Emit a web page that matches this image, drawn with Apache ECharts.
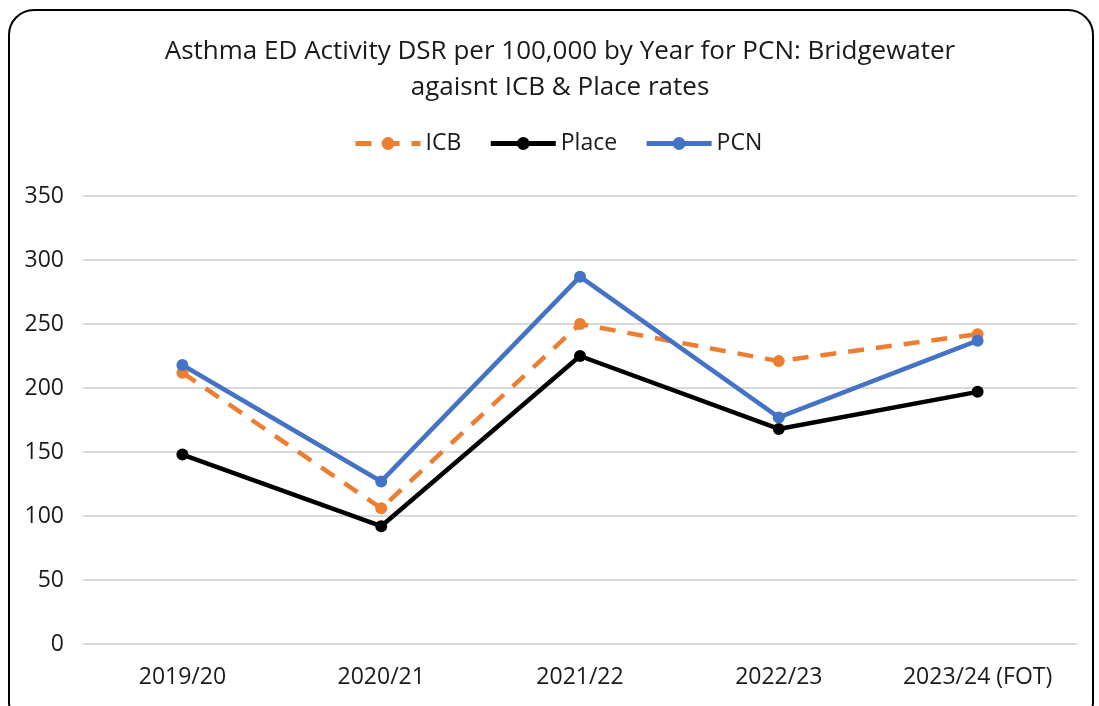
<!DOCTYPE html>
<html>
<head>
<meta charset="utf-8">
<script src="https://cdn.jsdelivr.net/npm/echarts@6/dist/echarts.min.js"></script>
<style>
  html, body { margin:0; padding:0; background:#fff; }
  #wrap { position:relative; width:1099px; height:706px; overflow:hidden; }
  #frame { position:absolute; left:8px; top:9px; width:1086px; height:720px; border:2px solid #000; border-radius:26px; box-sizing:border-box; pointer-events:none; z-index:2; }
  #chart { position:absolute; left:0; top:0; width:1099px; height:706px; }
</style>
</head>
<body>
<div id="wrap"><div id="chart"></div><div id="frame"></div></div>
<script>
const categories = ['2019/20', '2020/21', '2021/22', '2022/23', '2023/24 (FOT)'];
const icb = [212, 106, 250, 221, 242];
const place = [148, 92, 225, 168, 197];
const pcn = [218, 127, 287, 177, 237];
const yTicks = { min: 0, max: 350, interval: 50 };

const font = '"Open Sans", "Noto Sans", sans-serif';
const chart = echarts.init(document.getElementById('chart'));
chart.setOption({
  backgroundColor: '#fff',
  animation: false,
  textStyle: { fontFamily: font },
  title: {
    text: 'Asthma ED Activity DSR per 100,000 by Year for PCN: Bridgewater\nagaisnt ICB & Place rates',
    left: 555, top: 29, textAlign: 'center',
    textStyle: { fontSize: 26, fontWeight: 'normal', color: '#1a1a1a', lineHeight: 36, fontFamily: font }
  },
  legend: {
    top: 127, left: 348, itemWidth: 65, itemHeight: 16, itemGap: 27,
    lineStyle: { width: 5 },
    textStyle: { fontSize: 23, color: '#1a1a1a', fontFamily: font },
    data: ['ICB', 'Place', 'PCN']
  },
  grid: { left: 83, right: 22, top: 196, bottom: 62 },
  xAxis: {
    type: 'category', data: categories,
    axisLine: { show: false }, axisTick: { show: false },
    axisLabel: { fontSize: 23, color: '#1a1a1a', margin: 22, fontFamily: font }
  },
  yAxis: {
    type: 'value', min: yTicks.min, max: yTicks.max, interval: yTicks.interval,
    axisLine: { show: false }, axisTick: { show: false },
    axisLabel: { fontSize: 23, color: '#1a1a1a', margin: 19, fontFamily: font },
    splitLine: { lineStyle: { color: '#d9d9d9', width: 2 } }
  },
  series: [
    { name: 'ICB', type: 'line', data: icb, color: '#ED7D31', symbol: 'circle', symbolSize: 12,
      lineStyle: { width: 4.5, type: [16, 12], color: '#ED7D31' }, itemStyle: { color: '#ED7D31' } },
    { name: 'Place', type: 'line', data: place, color: '#000', symbol: 'circle', symbolSize: 12,
      lineStyle: { width: 4.5, color: '#000' }, itemStyle: { color: '#000' } },
    { name: 'PCN', type: 'line', data: pcn, color: '#4472C4', symbol: 'circle', symbolSize: 12,
      lineStyle: { width: 4.5, color: '#4472C4' }, itemStyle: { color: '#4472C4' } }
  ]
});
</script>
</body>
</html>
